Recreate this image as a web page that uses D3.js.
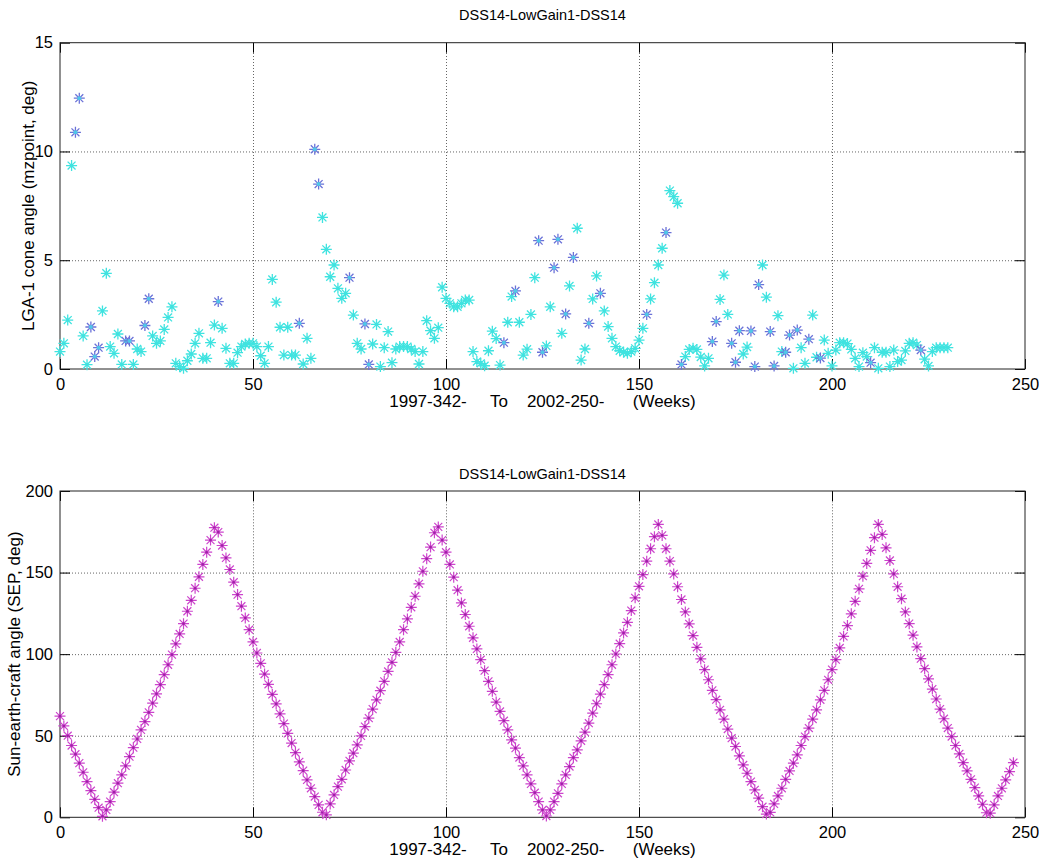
<!DOCTYPE html>
<html>
<head>
<meta charset="utf-8">
<script src="https://cdn.jsdelivr.net/npm/d3@7"></script>
<style>
  body { margin: 0; background: #fff; }
  text { font-family: "Liberation Sans", Arial, sans-serif; fill: #000; }
</style>
</head>
<body>
<script>
// ---- data ----
const weekTicks = [0, 50, 100, 150, 200, 250];
const coneTicks = [0, 5, 10, 15];
const sepTicks = [0, 50, 100, 150, 200];

const titleText = "DSS14-LowGain1-DSS14";
const xLabelText = "1997-342-     To    2002-250-      (Weeks)";

// LGA-1 cone angle, [week, deg] - cyan points
const conePoints = [
  [0,0.8],[1,1.18],[2,2.25],[3,9.35],[6,1.52],[7,0.2],[11,2.67],[12,4.4],[13,1.03],[14,0.72],
  [15,1.61],[16,0.21],[19,0.21],[20,0.92],[21,0.8],[24,1.52],[25,1.18],[26,1.29],[27,1.82],[28,2.37],
  [29,2.86],[30,0.26],[31,0.11],[32,0.03],[33,0.38],[34,0.69],[35,1.18],[36,1.64],[37,0.49],[38,0.49],
  [39,1.21],[40,2.02],[42,1.87],[43,0.95],[44,0.26],[45,0.26],[46,0.75],[47,1.03],[48,1.15],[49,1.18],
  [50,1.18],[51,1.03],[52,0.61],[53,0.26],[54,1.03],[55,4.12],[56,3.07],[57,1.92],[58,0.64],[59,1.92],
  [60,0.64],[61,0.64],[63,0.23],[64,1.41],[65,0.49],[68,6.97],[69,5.5],[70,4.24],[71,4.78],[72,3.71],
  [73,3.25],[74,3.48],[76,2.48],[77,1.18],[78,0.92],[81,1.15],[82,2.05],[83,0.11],[84,0.98],[85,1.72],
  [86,0.29],[87,0.92],[88,1.03],[89,1.03],[90,1.03],[91,0.92],[92,0.8],[93,0.23],[94,0.8],[95,2.22],
  [96,1.76],[97,1.41],[98,1.9],[99,3.76],[100,3.25],[101,3.02],[102,2.86],[103,2.86],[104,3.02],[105,3.17],
  [106,3.17],[107,0.8],[108,0.34],[109,0.26],[110,0.15],[111,0.84],[112,1.74],[113,1.4],[114,0.18],[116,2.15],
  [117,3.33],[119,2.15],[120,0.64],[121,0.91],[122,2.51],[123,4.2],[126,1.06],[127,2.86],[130,1.64],[132,3.82],
  [134,6.47],[135,0.41],[136,0.92],[138,3.22],[139,4.28],[141,2.67],[142,1.95],[143,1.41],[144,1.03],[145,0.84],
  [146,0.77],[147,0.72],[148,0.8],[149,0.95],[150,1.33],[151,1.87],[153,3.22],[154,3.97],[155,4.78],[156,5.55],
  [158,8.2],[159,7.92],[160,7.62],[162,0.57],[163,0.9],[164,0.95],[165,0.9],[166,0.55],[167,0.14],[168,0.49],
  [171,3.2],[172,4.32],[173,2.51],[177,0.69],[178,1.01],[182,4.78],[183,3.3],[186,2.45],[187,0.8],[190,0.03],
  [192,0.98],[193,0.26],[195,2.48],[196,0.54],[198,1.33],[199,0.72],[200,0.14],[201,0.87],[202,1.21],[203,1.21],
  [204,1.17],[205,0.9],[206,0.49],[207,0.11],[208,0.75],[209,0.57],[211,0.98],[212,0.03],[213,0.77],[214,0.77],
  [215,0.11],[216,0.87],[217,0.34],[218,0.41],[219,0.83],[220,1.18],[221,1.21],[222,1.1],[224,0.45],[225,0.14],
  [226,0.8],[227,0.98],[228,0.98],[229,0.98],[230,0.98]
];

// LGA-1 cone angle, [week, deg] - blue points
const coneBluePoints = [
  [4,10.88],[5,12.45],[8,1.93],[9,0.57],[10,0.98],[17,1.29],[18,1.29],[22,2.0],[23,3.23],[41,3.1],
  [62,2.1],[66,10.1],[67,8.5],[75,4.2],[79,2.07],[80,0.21],[115,1.21],[118,3.59],[124,5.9],[125,0.77],
  [128,4.66],[129,5.96],[131,2.53],[133,5.13],[137,2.1],[140,3.48],[152,2.51],[157,6.27],[161,0.21],[169,1.26],
  [170,2.18],[174,1.18],[175,0.31],[176,1.76],[179,1.75],[180,0.11],[181,3.88],[184,1.72],[185,0.14],[188,0.77],
  [189,1.56],[191,1.79],[194,1.37],[197,0.5],[210,0.29],[223,0.87]
];

// Sun-earth-craft angle, one value per week from week 0
const sepValues = [
  62, 56, 50, 44, 38.7, 33.2, 27.6, 21.9, 16.3, 11,
  5.9, 0.6, 4.5, 9.6, 15.4, 20.9, 26, 31.5, 37.2, 42.7,
  48, 53.6, 58.7, 64.3, 70, 75.7, 81.3, 87.4, 93.5, 99.7,
  106.3, 112.4, 118.7, 126.3, 133, 140.4, 147.4, 155, 162.5, 169.9,
  177.5, 174.8, 166.6, 159, 151.9, 144.1, 136.5, 129.4, 122.2, 115,
  107.5, 100.7, 94.4, 87.8, 81.5, 75.3, 69.5, 63.4, 57.4, 51.4,
  45.5, 39.7, 34, 28.6, 22.9, 17.8, 12.7, 7.6, 3.1, 1.5,
  8.2, 13.7, 18.8, 23.3, 29, 34.6, 39.3, 44.4, 49.9, 55.6,
  60.8, 66.3, 72, 77.6, 83.3, 89.4, 95, 101.1, 107.5, 115,
  121.6, 128.7, 135.5, 143.1, 150.8, 158.5, 165.6, 174.4, 178, 169.9,
  162.5, 155, 147.2, 139.2, 131.4, 124.3, 117.1, 110, 103.2, 96.6,
  89.9, 83.3, 77.2, 70.6, 64.9, 59.2, 53.6, 47.5, 42.4, 36.6,
  31.5, 26, 20.5, 15.1, 9.6, 4.5, 0.8, 4.5, 9.6, 14.7,
  20.5, 26, 31.1, 36.6, 41.3, 46.9, 52.2, 57.7, 63.9, 69.6,
  75.5, 81.3, 87.4, 93.5, 100.1, 106.4, 113, 119.5, 126.7, 134.5,
  141.6, 148.8, 157, 164.6, 172, 179.5, 172.8, 164.6, 157, 149.2,
  141.3, 133.5, 125.9, 118.6, 111.4, 104.2, 97.1, 90.5, 84.3, 77.8,
  72.1, 65.9, 60.2, 54.1, 48.5, 43.4, 37.7, 32.1, 27, 21.9,
  16.8, 11.7, 6.5, 2, 3, 8.2, 13.1, 17.8, 23.3, 28.4,
  33.2, 38.3, 44, 49.5, 54.7, 60.2, 65.9, 72, 77.8, 84.3,
  90.5, 96.6, 103.8, 110.9, 117.5, 124.7, 132.4, 140, 147.8, 155.6,
  163.6, 171.4, 179.5, 173.4, 165.2, 157.4, 149.2, 141.3, 134, 125.9,
  118.7, 111.6, 104.4, 97.2, 91.1, 84.8, 78.6, 72.5, 66.3, 60.4,
  54.7, 49.5, 44, 38.9, 33.5, 28.4, 23.3, 18.2, 13.1, 8,
  2.8, 2.5, 7.6, 13.1, 17.8, 22.9, 28, 33.5
];

// ---- layout ----
const W = 1039, H = 863;
const left = 60, right = 1025;
const tickFont = 16.5, labelFont = 17;

const svg = d3.select("body").append("svg")
  .attr("width", W)
  .attr("height", H);

// matlab style asterisk marker
function star(r) {
  const d = r * 0.72;
  return `M${-r},0L${r},0M0,${-r}L0,${r}M${-d},${-d}L${d},${d}M${-d},${d}L${d},${-d}`;
}

function panel(top, bottom, yMax, yTicks, yLabel, yLabelX, titleY) {
  const x = d3.scaleLinear().domain([0, 250]).range([left, right]);
  const y = d3.scaleLinear().domain([0, yMax]).range([bottom, top]);
  const g = svg.append("g");

  // dotted grid
  g.append("g")
    .attr("transform", `translate(0,${bottom})`)
    .call(d3.axisBottom(x).tickValues(weekTicks.slice(1, -1)).tickSize(-(bottom - top)).tickFormat(""))
    .call(s => s.select(".domain").remove())
    .selectAll("line").attr("stroke", "#666").attr("stroke-dasharray", "1,2");
  g.append("g")
    .attr("transform", `translate(${left},0)`)
    .call(d3.axisLeft(y).tickValues(yTicks.slice(1, -1)).tickSize(-(right - left)).tickFormat(""))
    .call(s => s.select(".domain").remove())
    .selectAll("line").attr("stroke", "#666").attr("stroke-dasharray", "1,2");

  // axes with inward ticks
  const xAxis = g.append("g")
    .attr("transform", `translate(0,${bottom})`)
    .call(d3.axisBottom(x).tickValues(weekTicks).tickSizeInner(-10).tickSizeOuter(0).tickPadding(9));
  const yAxis = g.append("g")
    .attr("transform", `translate(${left},0)`)
    .call(d3.axisLeft(y).tickValues(yTicks).tickSizeInner(-10).tickSizeOuter(0).tickPadding(7));
  g.append("g")
    .attr("transform", `translate(0,${top})`)
    .call(d3.axisTop(x).tickValues(weekTicks).tickSizeInner(-10).tickSizeOuter(0).tickFormat(""));
  g.append("g")
    .attr("transform", `translate(${right},0)`)
    .call(d3.axisRight(y).tickValues(yTicks).tickSizeInner(-10).tickSizeOuter(0).tickFormat(""));

  g.selectAll(".domain").remove();
  g.selectAll(".tick text")
    .attr("font-size", tickFont)
    .attr("font-family", "Liberation Sans, Arial, sans-serif");

  g.append("rect")
    .attr("x", left).attr("y", top)
    .attr("width", right - left).attr("height", bottom - top)
    .attr("fill", "none").attr("stroke", "#222").attr("stroke-width", 1);

  // title and labels
  g.append("text")
    .attr("x", (left + right) / 2).attr("y", titleY)
    .attr("text-anchor", "middle").attr("font-size", 14.5)
    .text(titleText);
  g.append("text")
    .attr("x", (left + right) / 2).attr("y", bottom + 38)
    .attr("text-anchor", "middle").attr("font-size", labelFont)
    .style("white-space", "pre")
    .text(xLabelText);
  g.append("text")
    .attr("transform", `translate(${yLabelX},${(top + bottom) / 2}) rotate(-90)`)
    .attr("text-anchor", "middle").attr("font-size", labelFont)
    .text(yLabel);

  return { x, y, g };
}

// ---- top panel: cone angle ----
const p1 = panel(42.7, 369, 15, coneTicks, "LGA-1 cone angle (mzpoint, deg)", 34, 20);

p1.g.append("g").selectAll("path")
  .data(conePoints)
  .enter()
  .append("path")
  .attr("transform", d => `translate(${p1.x(d[0])},${p1.y(d[1])})`)
  .attr("d", star(5.5))
  .attr("fill", "none")
  .attr("stroke", "#3fe3e0")
  .attr("stroke-width", 1.3);

const blue = p1.g.append("g").selectAll("g")
  .data(coneBluePoints)
  .enter()
  .append("g")
  .attr("transform", d => `translate(${p1.x(d[0])},${p1.y(d[1])})`);
blue.append("path")
  .attr("d", star(5.5))
  .attr("fill", "none")
  .attr("stroke", "#6b72d8")
  .attr("stroke-width", 1.3);
blue.append("circle")
  .attr("r", 2)
  .attr("fill", "#4fc8e8");

// ---- bottom panel: SEP ----
const p2 = panel(491, 817.3, 200, sepTicks, "Sun-earth-craft angle (SEP, deg)", 20, 479);

const sep = p2.g.append("g").selectAll("g")
  .data(sepValues)
  .enter()
  .append("g")
  .attr("transform", (d, i) => `translate(${p2.x(i)},${p2.y(d)})`);
sep.append("path")
  .attr("d", star(5.5))
  .attr("fill", "none")
  .attr("stroke", "#cc44cc")
  .attr("stroke-width", 1.2);
sep.append("circle")
  .attr("r", 1.3)
  .attr("fill", "#a020a8");
</script>
</body>
</html>
